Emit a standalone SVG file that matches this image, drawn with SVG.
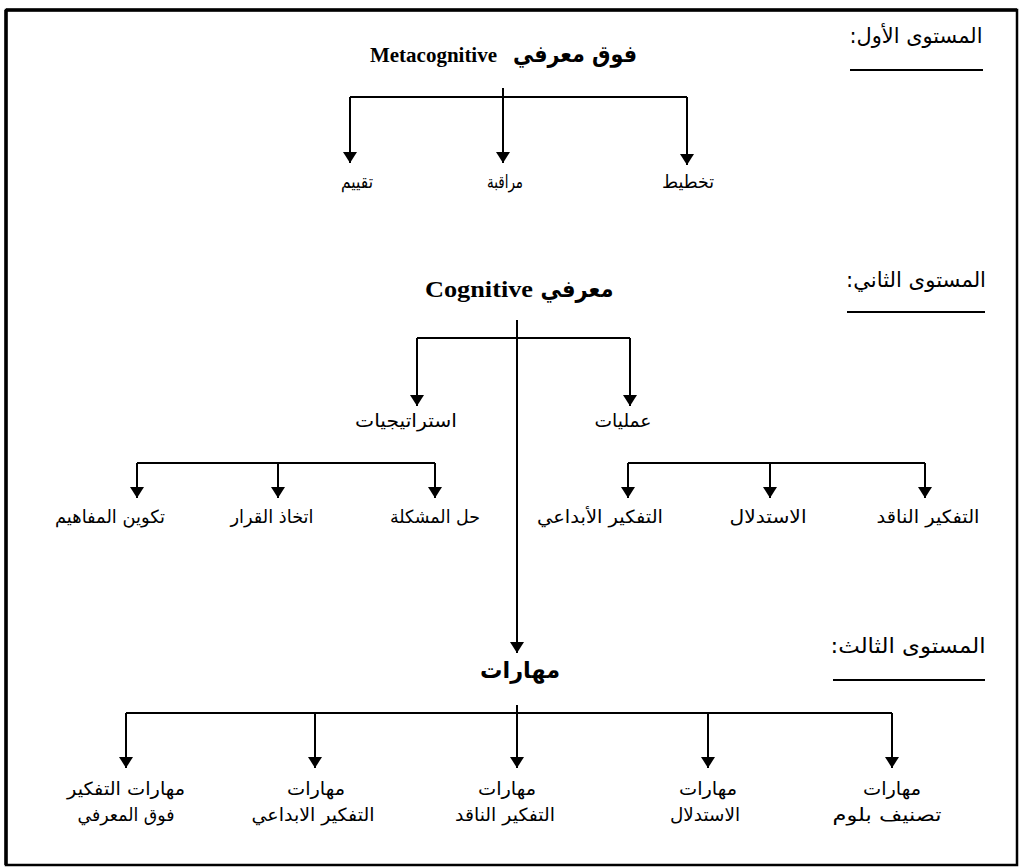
<svg xmlns="http://www.w3.org/2000/svg" width="1021" height="868" viewBox="0 0 1021 868">
<style>
.ar{font-family:"DejaVu Sans",sans-serif;font-size:18px;fill:#000;direction:rtl}
.lv{font-family:"DejaVu Sans",sans-serif;font-size:21px;fill:#000;direction:rtl}
.arb{font-family:"DejaVu Sans",sans-serif;font-size:23px;font-weight:bold;fill:#000;direction:rtl}
.en{font-family:"Liberation Serif",serif;font-weight:bold;fill:#000}
.ln{stroke:#000;stroke-width:2;fill:none}
.ar2{stroke:#000;stroke-width:2;fill:none;marker-end:url(#ah)}
.ul{stroke:#000;stroke-width:2}
</style>
<defs>
<marker id="ah" viewBox="0 0 11 14" refX="11" refY="7" markerWidth="11" markerHeight="14" markerUnits="userSpaceOnUse" orient="auto">
<path d="M0,0 L11,7 L0,14 z" fill="#000"/>
</marker>
</defs>
<rect x="0" y="0" width="1021" height="868" fill="#fff"/>
<g id="frame">
<rect x="6" y="10" width="1011" height="855" fill="none" stroke="#000" stroke-width="2.5"/>
<line x1="6" y1="10" x2="1017" y2="10" stroke="#000" stroke-width="3.5"/>
<line x1="6" y1="10" x2="6" y2="865" stroke="#000" stroke-width="3.5"/>
</g>
<g id="connectors">
<path class="ln" d="M350,97 H687"/>
<path class="ar2" d="M503,88 V163"/>
<path class="ar2" d="M350,97 V163"/>
<path class="ar2" d="M687,97 V165"/>
<path class="ar2" d="M517,320 V653"/>
<path class="ln" d="M417,338 H630"/>
<path class="ar2" d="M417,338 V406"/>
<path class="ar2" d="M630,338 V406"/>
<path class="ln" d="M137,463 H435"/>
<path class="ar2" d="M137,463 V498"/>
<path class="ar2" d="M278,463 V498"/>
<path class="ar2" d="M435,463 V498"/>
<path class="ln" d="M628,463 H925"/>
<path class="ar2" d="M628,463 V498"/>
<path class="ar2" d="M770,463 V498"/>
<path class="ar2" d="M925,463 V498"/>
<path class="ar2" d="M517,705 V768"/>
<path class="ln" d="M126,713 H892"/>
<path class="ar2" d="M126,713 V768"/>
<path class="ar2" d="M315,713 V768"/>
<path class="ar2" d="M708,713 V768"/>
<path class="ar2" d="M892,713 V768"/>
</g>
<g id="level1">
<text class="lv" x="916" y="43" text-anchor="middle" textLength="133" lengthAdjust="spacingAndGlyphs">المستوى الأول:</text>
<line class="ul" x1="850" y1="70" x2="983" y2="70"/>
</g>
<g id="level2">
<text class="lv" x="916" y="287" text-anchor="middle" textLength="140" lengthAdjust="spacingAndGlyphs">المستوى الثاني:</text>
<line class="ul" x1="847" y1="312" x2="985" y2="312"/>
</g>
<g id="level3">
<text class="lv" x="908" y="653" text-anchor="middle" textLength="155" lengthAdjust="spacingAndGlyphs">المستوى الثالث:</text>
<line class="ul" x1="833" y1="680" x2="985" y2="680"/>
</g>
<g id="metacognitive">
<text class="en" x="433.5" y="62" font-size="22" text-anchor="middle" textLength="127" lengthAdjust="spacingAndGlyphs">Metacognitive</text>
<text class="arb" x="575" y="62" text-anchor="middle" textLength="124" lengthAdjust="spacingAndGlyphs">فوق معرفي</text>
</g>
<g id="evaluation"><text class="ar" x="357" y="188" text-anchor="middle" textLength="32" lengthAdjust="spacingAndGlyphs">تقييم</text></g>
<g id="monitoring"><text class="ar" x="505" y="188" text-anchor="middle" textLength="36" lengthAdjust="spacingAndGlyphs">مراقبة</text></g>
<g id="planning"><text class="ar" x="688" y="188" text-anchor="middle" textLength="52" lengthAdjust="spacingAndGlyphs">تخطيط</text></g>
<g id="cognitive">
<text class="en" x="479" y="297" font-size="24" text-anchor="middle" textLength="108" lengthAdjust="spacingAndGlyphs">Cognitive</text>
<text class="arb" x="577" y="297" text-anchor="middle" textLength="73" lengthAdjust="spacingAndGlyphs">معرفي</text>
</g>
<g id="strategies"><text class="ar" x="406" y="427" text-anchor="middle" textLength="102" lengthAdjust="spacingAndGlyphs">استراتيجيات</text></g>
<g id="processes"><text class="ar" x="623" y="427" text-anchor="middle" textLength="57" lengthAdjust="spacingAndGlyphs">عمليات</text></g>
<g id="concepts"><text class="ar" x="110" y="523" text-anchor="middle" textLength="110" lengthAdjust="spacingAndGlyphs">تكوين المفاهيم</text></g>
<g id="decision"><text class="ar" x="272" y="523" text-anchor="middle" textLength="83" lengthAdjust="spacingAndGlyphs">اتخاذ القرار</text></g>
<g id="problem"><text class="ar" x="435" y="523" text-anchor="middle" textLength="90" lengthAdjust="spacingAndGlyphs">حل المشكلة</text></g>
<g id="creative"><text class="ar" x="600" y="523" text-anchor="middle" textLength="126" lengthAdjust="spacingAndGlyphs">التفكير الأبداعي</text></g>
<g id="reasoning"><text class="ar" x="768" y="523" text-anchor="middle" textLength="77" lengthAdjust="spacingAndGlyphs">الاستدلال</text></g>
<g id="critical"><text class="ar" x="928" y="523" text-anchor="middle" textLength="103" lengthAdjust="spacingAndGlyphs">التفكير الناقد</text></g>
<g id="skills"><text class="arb" x="520" y="678" text-anchor="middle" textLength="80" lengthAdjust="spacingAndGlyphs">مهارات</text></g>
<g id="skill-meta">
<text class="ar" x="126" y="795" text-anchor="middle" textLength="118" lengthAdjust="spacingAndGlyphs">مهارات التفكير</text>
<text class="ar" x="126" y="821" text-anchor="middle" textLength="97" lengthAdjust="spacingAndGlyphs">فوق المعرفي</text>
</g>
<g id="skill-creative">
<text class="ar" x="316" y="795" text-anchor="middle" textLength="58" lengthAdjust="spacingAndGlyphs">مهارات</text>
<text class="ar" x="313" y="821" text-anchor="middle" textLength="123" lengthAdjust="spacingAndGlyphs">التفكير الابداعي</text>
</g>
<g id="skill-critical">
<text class="ar" x="507" y="795" text-anchor="middle" textLength="58" lengthAdjust="spacingAndGlyphs">مهارات</text>
<text class="ar" x="505" y="821" text-anchor="middle" textLength="100" lengthAdjust="spacingAndGlyphs">التفكير الناقد</text>
</g>
<g id="skill-reasoning">
<text class="ar" x="708" y="795" text-anchor="middle" textLength="58" lengthAdjust="spacingAndGlyphs">مهارات</text>
<text class="ar" x="705" y="821" text-anchor="middle" textLength="70" lengthAdjust="spacingAndGlyphs">الاستدلال</text>
</g>
<g id="skill-bloom">
<text class="ar" x="892" y="795" text-anchor="middle" textLength="58" lengthAdjust="spacingAndGlyphs">مهارات</text>
<text class="ar" x="887" y="821" text-anchor="middle" textLength="109" lengthAdjust="spacingAndGlyphs">تصنيف بلوم</text>
</g>
</svg>
